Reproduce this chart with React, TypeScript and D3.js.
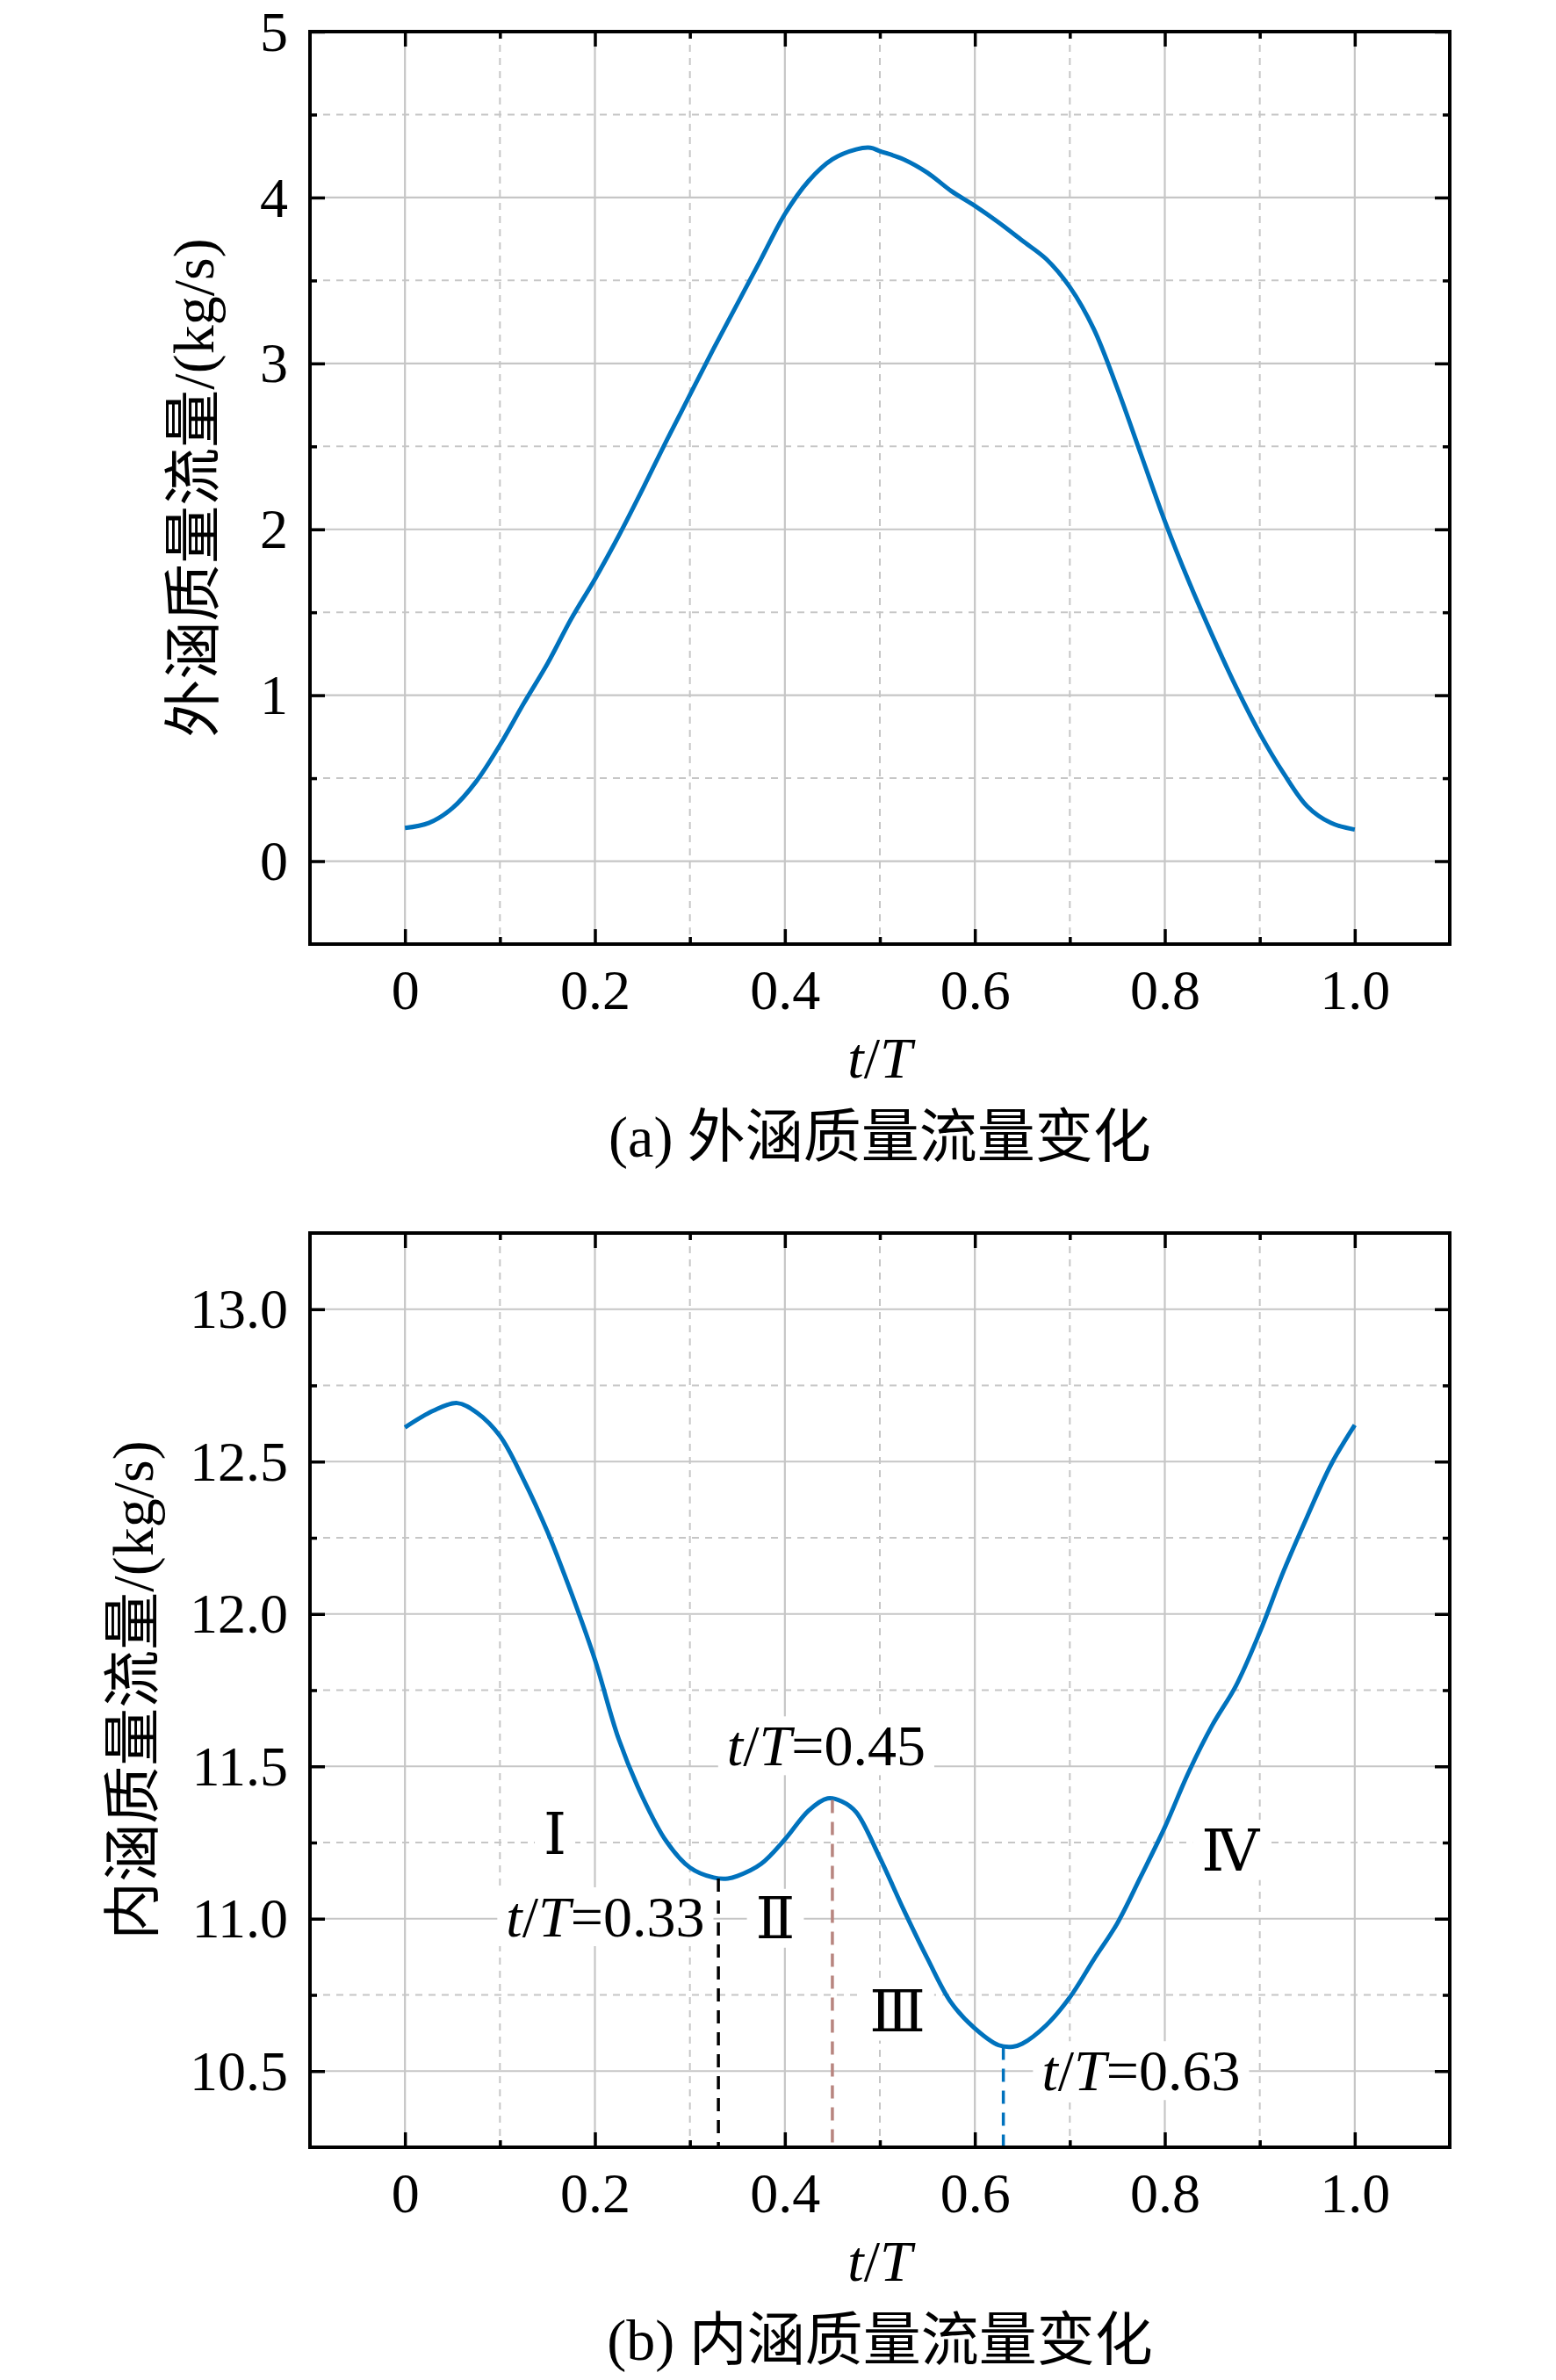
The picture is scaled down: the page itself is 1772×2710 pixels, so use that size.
import { useEffect, useRef } from 'react';
import * as d3 from 'd3';

// ── Data ──

// (a) bypass (outer duct) mass flow, kg/s
const outerT = [
  0, 0.025, 0.05, 0.075, 0.1, 0.125, 0.15, 0.175, 0.2, 0.225, 0.25, 0.275, 0.3, 0.325,
  0.35, 0.375, 0.4, 0.425, 0.45, 0.475, 0.49, 0.5, 0.525, 0.55, 0.575, 0.6, 0.625, 0.65,
  0.675, 0.7, 0.725, 0.75, 0.775, 0.8, 0.825, 0.85, 0.875, 0.9, 0.925, 0.95, 0.975, 1.0,
];
const outerFlow = [
  0.2, 0.23, 0.32, 0.48, 0.7, 0.95, 1.19, 1.46, 1.7, 1.96, 2.24, 2.53, 2.81, 3.09,
  3.36, 3.63, 3.9, 4.1, 4.23, 4.29, 4.3, 4.28, 4.23, 4.15, 4.04, 3.95, 3.85, 3.74,
  3.63, 3.46, 3.21, 2.85, 2.45, 2.05, 1.69, 1.36, 1.05, 0.77, 0.53, 0.33, 0.23, 0.19,
];

// (b) core (inner duct) mass flow, kg/s
const innerT = [
  0, 0.03, 0.055, 0.076, 0.1, 0.125, 0.15, 0.175, 0.2, 0.225, 0.25, 0.275, 0.3, 0.325,
  0.34, 0.35, 0.375, 0.4, 0.425, 0.445, 0.46, 0.475, 0.5, 0.525, 0.55, 0.575, 0.6, 0.625,
  0.64, 0.65, 0.675, 0.7, 0.725, 0.75, 0.775, 0.8, 0.825, 0.85, 0.875, 0.9, 0.925, 0.95,
  0.975, 1.0,
];
const innerFlow = [
  12.612, 12.667, 12.692, 12.66, 12.584, 12.44, 12.27, 12.07, 11.85, 11.59, 11.4, 11.255, 11.168, 11.135,
  11.132, 11.14, 11.18, 11.26, 11.355, 11.395, 11.385, 11.35, 11.2, 11.03, 10.87, 10.725, 10.64, 10.585,
  10.58, 10.59, 10.65, 10.742, 10.865, 10.985, 11.14, 11.3, 11.48, 11.635, 11.765, 11.94, 12.14, 12.32,
  12.49, 12.62,
];

const xTicks = [0, 0.2, 0.4, 0.6, 0.8, 1.0];
const xTickLabels = ['0', '0.2', '0.4', '0.6', '0.8', '1.0'];
const xMinorTicks = [0.1, 0.3, 0.5, 0.7, 0.9];

const outerYTicks = [0, 1, 2, 3, 4, 5];
const outerYTickLabels = ['0', '1', '2', '3', '4', '5'];
const outerYMinor = [0.5, 1.5, 2.5, 3.5, 4.5];

const innerYTicks = [10.5, 11, 11.5, 12, 12.5, 13];
const innerYTickLabels = ['10.5', '11.0', '11.5', '12.0', '12.5', '13.0'];
const innerYMinor = [10.75, 11.25, 11.75, 12.25, 12.75];

// marked instants in (b)
const markT = [0.33, 0.45, 0.63];
const markFlow = [11.132, 11.39, 10.58];
const markColors = ['#000000', '#b8857f', '#0072bd'];
const markLabels = ['0.33', '0.45', '0.63'];
const markLabelT = [0.211, 0.4435, 0.775];
const markLabelFlow = [11.005, 11.566, 10.5];

// stage numerals in (b)
const stageLabels = ['Ⅰ', 'Ⅱ', 'Ⅲ', 'Ⅳ'];
const stageT = [0.158, 0.39, 0.5185, 0.869];
const stageFlow = [11.277, 11.0, 10.695, 11.222];

// ── Layout ──

const W = 1772;
const H = 2710;
const LEFT = 353;
const RIGHT = 1651;
const SERIF = "'Liberation Serif', 'Times New Roman', 'Noto Sans CJK SC', serif";
const NUMERAL = "'Liberation Serif', 'DejaVu Serif', 'Noto Sans CJK SC', serif";
const BLUE = '#0072bd';
const GRID = '#c6c6c6';
const MAJOR_TICK = 17;
const MINOR_TICK = 8;

interface PanelOpts {
  top: number;
  bottom: number;
  yDomain: [number, number];
  yTicks: number[];
  yTickLabels: string[];
  yMinor: number[];
  t: number[];
  v: number[];
  yTitle: string;
  yTitleX: number;
  caption: string;
}

type G = d3.Selection<SVGGElement, unknown, null, undefined>;

function drawPanel(root: G, o: PanelOpts) {
  const x = d3.scaleLinear().domain([-0.1, 1.1]).range([LEFT, RIGHT]);
  const y = d3.scaleLinear().domain(o.yDomain).range([o.bottom, o.top]);
  const g = root.append('g');

  // grid: minor dashed, major solid
  const grid = g.append('g');
  grid.selectAll('.xminor').data(xMinorTicks).enter().append('line')
    .attr('x1', (d) => x(d)).attr('x2', (d) => x(d))
    .attr('y1', o.top).attr('y2', o.bottom)
    .attr('stroke', GRID).attr('stroke-width', 2).attr('stroke-dasharray', '8,7');
  grid.selectAll('.yminor').data(o.yMinor).enter().append('line')
    .attr('x1', LEFT).attr('x2', RIGHT)
    .attr('y1', (d) => y(d)).attr('y2', (d) => y(d))
    .attr('stroke', GRID).attr('stroke-width', 2).attr('stroke-dasharray', '8,7');
  grid.selectAll('.xmajor').data(xTicks).enter().append('line')
    .attr('x1', (d) => x(d)).attr('x2', (d) => x(d))
    .attr('y1', o.top).attr('y2', o.bottom)
    .attr('stroke', GRID).attr('stroke-width', 2.2);
  grid.selectAll('.ymajor').data(o.yTicks).enter().append('line')
    .attr('x1', LEFT).attr('x2', RIGHT)
    .attr('y1', (d) => y(d)).attr('y2', (d) => y(d))
    .attr('stroke', GRID).attr('stroke-width', 2.2);

  // layer for boxed annotations (above grid, under curve)
  const ann = g.append('g');

  // curve
  const line = d3.line<number>()
    .x((_, i) => x(o.t[i]))
    .y((d) => y(d))
    .curve(d3.curveCatmullRom.alpha(0.5));
  g.append('path')
    .datum(o.v)
    .attr('fill', 'none')
    .attr('stroke', BLUE)
    .attr('stroke-width', 5)
    .attr('stroke-linejoin', 'round')
    .attr('d', line);

  // layer for marker lines
  const marks = g.append('g');

  // ticks (inward on all four sides) via d3 axes
  const styleAxis = (sel: G) => {
    sel.select('.domain').remove();
    sel.selectAll('line').attr('stroke', '#000').attr('stroke-width', 3.5);
  };
  const blank = () => '';

  const bottomAx = g.append('g').attr('transform', `translate(0,${o.bottom})`)
    .call(d3.axisBottom(x).tickValues(xTicks).tickSize(-MAJOR_TICK).tickPadding(28)
      .tickFormat((_, i) => xTickLabels[i]));
  styleAxis(bottomAx);
  bottomAx.attr('font-size', null).attr('font-family', null);
  bottomAx.selectAll('text')
    .attr('y', 0).attr('dy', null)
    .attr('transform', 'translate(0,74)')
    .style('font-family', SERIF).style('font-size', '64px').attr('fill', '#000');

  g.append('g').attr('transform', `translate(0,${o.bottom})`)
    .call(d3.axisBottom(x).tickValues(xMinorTicks).tickSize(-MINOR_TICK).tickFormat(blank))
    .call(styleAxis);
  g.append('g').attr('transform', `translate(0,${o.top})`)
    .call(d3.axisTop(x).tickValues(xTicks).tickSize(-MAJOR_TICK).tickFormat(blank))
    .call(styleAxis);
  g.append('g').attr('transform', `translate(0,${o.top})`)
    .call(d3.axisTop(x).tickValues(xMinorTicks).tickSize(-MINOR_TICK).tickFormat(blank))
    .call(styleAxis);

  const leftAx = g.append('g').attr('transform', `translate(${LEFT},0)`)
    .call(d3.axisLeft(y).tickValues(o.yTicks).tickSize(-MAJOR_TICK).tickPadding(25)
      .tickFormat((_, i) => o.yTickLabels[i]));
  styleAxis(leftAx);
  leftAx.attr('font-size', null).attr('font-family', null);
  leftAx.selectAll('text')
    .attr('dy', '0.33em')
    .style('font-family', SERIF).style('font-size', '64px').attr('fill', '#000');

  g.append('g').attr('transform', `translate(${LEFT},0)`)
    .call(d3.axisLeft(y).tickValues(o.yMinor).tickSize(-MINOR_TICK).tickFormat(blank))
    .call(styleAxis);
  g.append('g').attr('transform', `translate(${RIGHT},0)`)
    .call(d3.axisRight(y).tickValues(o.yTicks).tickSize(-MAJOR_TICK).tickFormat(blank))
    .call(styleAxis);
  g.append('g').attr('transform', `translate(${RIGHT},0)`)
    .call(d3.axisRight(y).tickValues(o.yMinor).tickSize(-MINOR_TICK).tickFormat(blank))
    .call(styleAxis);

  // frame
  g.append('rect')
    .attr('x', LEFT).attr('y', o.top)
    .attr('width', RIGHT - LEFT).attr('height', o.bottom - o.top)
    .attr('fill', 'none').attr('stroke', '#000').attr('stroke-width', 4);

  // x title t/T
  const xt = g.append('text')
    .attr('x', (LEFT + RIGHT) / 2).attr('y', o.bottom + 152)
    .attr('text-anchor', 'middle')
    .style('font-family', SERIF).style('font-size', '66px');
  xt.append('tspan').attr('font-style', 'italic').text('t');
  xt.append('tspan').text('/');
  xt.append('tspan').attr('font-style', 'italic').text('T');

  // caption
  g.append('text')
    .attr('x', (LEFT + RIGHT) / 2).attr('y', o.bottom + 242)
    .attr('text-anchor', 'middle')
    .style('font-family', SERIF).style('font-size', '66px')
    .text(o.caption);

  // y title
  g.append('text')
    .attr('transform', `translate(${o.yTitleX},${(o.top + o.bottom) / 2}) rotate(-90)`)
    .attr('text-anchor', 'middle')
    .style('font-family', SERIF).style('font-size', '66px')
    .text(o.yTitle);

  return { g, ann, marks, x, y };
}

// text with white background box
function boxedText(
  g: G,
  cx: number,
  cy: number,
  fill: (t: d3.Selection<SVGTextElement, unknown, null, undefined>) => void,
  font: string,
) {
  const holder = g.append('g');
  const rect = holder.append('rect').attr('fill', '#fff');
  const txt = holder.append('text')
    .attr('x', cx).attr('y', cy + 22)
    .attr('text-anchor', 'middle')
    .style('font-family', font).style('font-size', '66px');
  fill(txt);
  const bb = (txt.node() as SVGTextElement).getBBox();
  rect
    .attr('x', bb.x - 10).attr('y', bb.y + 3)
    .attr('width', bb.width + 20).attr('height', Math.max(0, bb.height - 6));
}

export default function App() {
  const svgRef = useRef<SVGSVGElement>(null);

  useEffect(() => {
    const svgEl = svgRef.current;
    if (!svgEl) return;
    const svg = d3.select(svgEl);
    svg.selectAll('*').remove();
    const root = svg.append('g') as unknown as G;

    drawPanel(root, {
      top: 36,
      bottom: 1075,
      yDomain: [-0.5, 5],
      yTicks: outerYTicks,
      yTickLabels: outerYTickLabels,
      yMinor: outerYMinor,
      t: outerT,
      v: outerFlow,
      yTitle: '外涵质量流量/(kg/s)',
      yTitleX: 243,
      caption: '(a) 外涵质量流量变化',
    });

    const b = drawPanel(root, {
      top: 1404,
      bottom: 2445,
      yDomain: [10.25, 13.25],
      yTicks: innerYTicks,
      yTickLabels: innerYTickLabels,
      yMinor: innerYMinor,
      t: innerT,
      v: innerFlow,
      yTitle: '内涵质量流量/(kg/s)',
      yTitleX: 174,
      caption: '(b) 内涵质量流量变化',
    });

    // annotations in (b)
    markLabels.forEach((lab, i) => {
      boxedText(b.ann, b.x(markLabelT[i]), b.y(markLabelFlow[i]), (t) => {
        t.append('tspan').attr('font-style', 'italic').text('t');
        t.append('tspan').text('/');
        t.append('tspan').attr('font-style', 'italic').text('T');
        t.append('tspan').text('=' + lab);
      }, SERIF);
    });
    stageLabels.forEach((lab, i) => {
      boxedText(b.ann, b.x(stageT[i]), b.y(stageFlow[i]), (t) => {
        t.text(lab);
      }, NUMERAL);
    });

    // vertical dashed markers from the curve down to the axis
    b.marks.selectAll('line').data(markT).enter().append('line')
      .attr('x1', (d) => b.x(d)).attr('x2', (d) => b.x(d))
      .attr('y1', (_, i) => b.y(markFlow[i]))
      .attr('y2', b.y(10.25) - 2)
      .attr('stroke', (_, i) => markColors[i])
      .attr('stroke-width', 3.5)
      .attr('stroke-dasharray', '15,10');

    return () => {
      svg.selectAll('*').remove();
    };
  }, []);

  return (
    <div style={{ position: 'absolute', left: 0, top: 0, background: '#fff' }}>
      <svg ref={svgRef} width={W} height={H} style={{ display: 'block', background: '#fff' }} />
    </div>
  );
}
